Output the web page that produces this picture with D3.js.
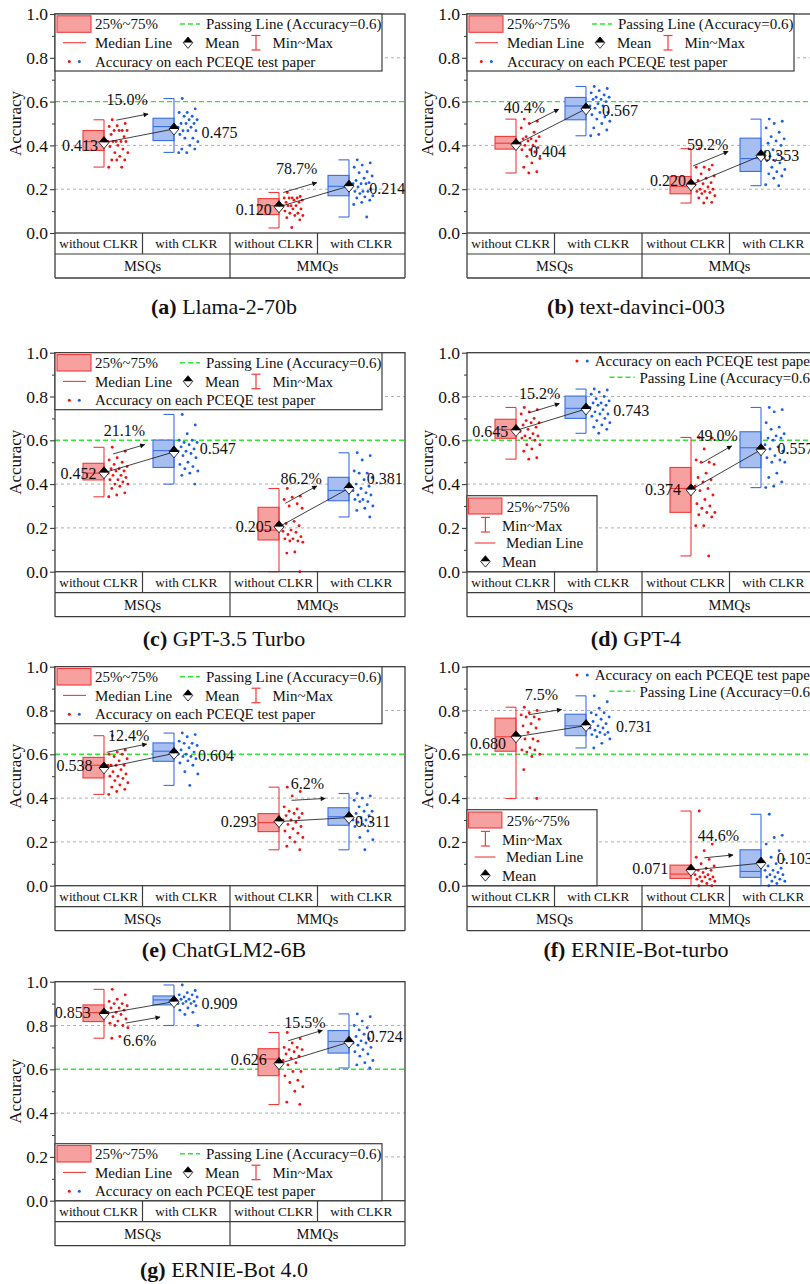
<!DOCTYPE html>
<html><head><meta charset="utf-8">
<script src="https://cdn.jsdelivr.net/npm/d3@7"></script>
<style>body{margin:0;background:#fff}svg text,svg tspan{font-family:"Liberation Serif","Times New Roman","DejaVu Serif",serif !important;fill:#111}</style>
</head><body><svg id="c" width="810" height="1284" font-family="Liberation Serif, Times New Roman, serif"></svg>
<script>
// ---------- DATA ----------
const panelLetters = ["a","b","c","d","e","f","g"];
const panelNames = ["Llama-2-70b","text-davinci-003","GPT-3.5 Turbo","GPT-4","ChatGLM2-6B","ERNIE-Bot-turbo","ERNIE-Bot 4.0"];
const subCategories = ["without CLKR","with CLKR","without CLKR","with CLKR"];
const groups = ["MSQs","MMQs"];
const yTicks = [0,0.2,0.4,0.6,0.8,1.0];
const yMinorTicks = [0.1,0.3,0.5,0.7,0.9];
const gridValues = [0.2,0.4,0.8];
const passingLine = 0.6;
// box order in each panel: MSQs without, MSQs with, MMQs without, MMQs with
const q1 = [[0.377,0.422,0.084,0.170],[0.383,0.517,0.179,0.281],[0.419,0.476,0.145,0.324],[0.609,0.700,0.271,0.475],[0.492,0.568,0.247,0.276],[0.614,0.685,0.033,0.038],[0.818,0.894,0.571,0.674]];
const q3 = [[0.468,0.524,0.157,0.263],[0.441,0.619,0.258,0.433],[0.495,0.601,0.294,0.431],[0.696,0.802,0.476,0.639],[0.586,0.652,0.329,0.356],[0.765,0.783,0.094,0.164],[0.894,0.935,0.694,0.777]];
const medians = [[0.417,0.486,0.125,0.213],[0.410,0.580,0.213,0.340],[0.450,0.553,0.190,0.371],[0.650,0.746,0.380,0.566],[0.550,0.614,0.288,0.315],[0.680,0.730,0.053,0.065],[0.859,0.917,0.647,0.727]];
const mins = [[0.301,0.368,0.023,0.073],[0.274,0.444,0.137,0.216],[0.342,0.400,0.000,0.250],[0.514,0.632,0.072,0.384],[0.417,0.458,0.164,0.164],[0.398,0.629,0.000,0.000],[0.742,0.800,0.439,0.606]];
const maxs = [[0.517,0.614,0.185,0.334],[0.520,0.669,0.385,0.520],[0.568,0.718,0.380,0.543],[0.750,0.834,0.613,0.750],[0.685,0.697,0.450,0.421],[0.815,0.867,0.341,0.326],[0.965,0.985,0.768,0.853]];
const means = [[0.413,0.475,0.120,0.214],[0.404,0.567,0.220,0.353],[0.452,0.547,0.205,0.381],[0.645,0.743,0.374,0.557],[0.538,0.604,0.293,0.311],[0.680,0.731,0.071,0.103],[0.853,0.909,0.626,0.724]];
const gains = [["15.0%","78.7%"],["40.4%","59.2%"],["21.1%","86.2%"],["15.2%","49.0%"],["12.4%","6.2%"],["7.5%","44.6%"],["6.6%","15.5%"]];

const pointsA = [
 [0.517,0.50,0.49,0.486,0.468,0.468,0.468,0.468,0.45,0.44,0.418,0.418,0.418,0.418,0.418,0.40,0.395,0.383,0.367,0.367,0.35,0.333,0.333,0.333,0.30,0.30],
 [0.614,0.567,0.55,0.55,0.533,0.533,0.517,0.517,0.50,0.50,0.50,0.483,0.483,0.467,0.467,0.467,0.45,0.433,0.433,0.417,0.40,0.383,0.383,0.367,0.367],
 [0.185,0.167,0.16,0.16,0.16,0.16,0.15,0.15,0.14,0.14,0.125,0.125,0.125,0.125,0.11,0.11,0.10,0.09,0.09,0.08,0.08,0.07,0.06,0.025],
 [0.334,0.32,0.31,0.30,0.28,0.275,0.26,0.25,0.24,0.23,0.225,0.225,0.225,0.21,0.20,0.19,0.19,0.19,0.18,0.17,0.165,0.16,0.15,0.14,0.13,0.073]];
const pointsB = [
 [0.52,0.51,0.50,0.48,0.46,0.44,0.44,0.43,0.43,0.42,0.42,0.41,0.40,0.40,0.39,0.38,0.38,0.37,0.35,0.34,0.32,0.30,0.28,0.274],
 [0.669,0.66,0.65,0.64,0.63,0.62,0.62,0.61,0.61,0.60,0.59,0.58,0.58,0.57,0.55,0.55,0.54,0.53,0.52,0.51,0.50,0.48,0.47,0.45,0.444],
 [0.385,0.31,0.30,0.30,0.29,0.27,0.26,0.25,0.24,0.23,0.225,0.22,0.21,0.20,0.20,0.19,0.19,0.185,0.18,0.17,0.16,0.16,0.14,0.137],
 [0.52,0.51,0.50,0.48,0.46,0.44,0.43,0.42,0.41,0.40,0.38,0.37,0.36,0.35,0.34,0.33,0.33,0.32,0.30,0.29,0.28,0.27,0.26,0.25,0.22,0.216]];
const pointsC = [
 [0.568,0.55,0.52,0.51,0.50,0.49,0.48,0.47,0.47,0.46,0.46,0.45,0.44,0.44,0.43,0.42,0.42,0.41,0.40,0.40,0.39,0.38,0.36,0.35,0.342],
 [0.718,0.67,0.63,0.60,0.60,0.59,0.59,0.58,0.57,0.56,0.55,0.55,0.54,0.53,0.52,0.50,0.49,0.48,0.47,0.46,0.45,0.44,0.40],
 [0.38,0.345,0.34,0.33,0.31,0.30,0.29,0.23,0.22,0.21,0.19,0.185,0.18,0.17,0.16,0.15,0.15,0.14,0.14,0.135,0.09,0.085,0.0],
 [0.543,0.53,0.51,0.46,0.45,0.45,0.43,0.42,0.40,0.39,0.38,0.37,0.36,0.35,0.35,0.33,0.33,0.32,0.32,0.30,0.29,0.28,0.25]];
const pointsD = [
 [0.75,0.74,0.73,0.72,0.70,0.69,0.68,0.68,0.67,0.66,0.65,0.64,0.63,0.62,0.62,0.61,0.61,0.60,0.58,0.58,0.56,0.55,0.52,0.514],
 [0.834,0.83,0.82,0.81,0.80,0.79,0.78,0.77,0.77,0.76,0.76,0.75,0.74,0.73,0.72,0.72,0.71,0.70,0.69,0.68,0.67,0.66,0.65,0.632],
 [0.613,0.61,0.56,0.51,0.50,0.50,0.49,0.45,0.43,0.42,0.41,0.39,0.38,0.37,0.35,0.33,0.31,0.30,0.29,0.27,0.27,0.26,0.25,0.21,0.21,0.072],
 [0.75,0.74,0.73,0.68,0.66,0.65,0.63,0.62,0.61,0.61,0.60,0.58,0.57,0.56,0.55,0.53,0.52,0.51,0.50,0.50,0.45,0.43,0.41,0.39,0.384]];
const pointsE = [
 [0.685,0.62,0.61,0.60,0.60,0.59,0.58,0.57,0.55,0.55,0.55,0.55,0.53,0.52,0.51,0.50,0.50,0.49,0.48,0.47,0.46,0.45,0.44,0.43,0.417],
 [0.697,0.69,0.68,0.66,0.65,0.65,0.64,0.63,0.62,0.61,0.60,0.60,0.59,0.59,0.58,0.57,0.56,0.55,0.52,0.51,0.458],
 [0.45,0.43,0.41,0.36,0.35,0.34,0.33,0.33,0.32,0.31,0.30,0.30,0.29,0.28,0.27,0.26,0.25,0.24,0.22,0.22,0.20,0.18,0.164],
 [0.421,0.41,0.40,0.39,0.37,0.36,0.34,0.34,0.33,0.32,0.31,0.30,0.30,0.29,0.29,0.28,0.27,0.25,0.22,0.21,0.164]];
const pointsF = [
 [0.815,0.80,0.79,0.78,0.77,0.77,0.76,0.74,0.73,0.72,0.70,0.68,0.67,0.67,0.66,0.63,0.62,0.62,0.61,0.60,0.59,0.53,0.398],
 [0.867,0.84,0.81,0.79,0.79,0.78,0.77,0.76,0.75,0.74,0.73,0.72,0.72,0.71,0.70,0.70,0.69,0.69,0.68,0.67,0.65,0.629],
 [0.341,0.19,0.16,0.13,0.12,0.10,0.09,0.08,0.07,0.07,0.06,0.05,0.05,0.04,0.04,0.04,0.03,0.03,0.02,0.02,0.01,0.0,0.0],
 [0.326,0.23,0.22,0.19,0.16,0.13,0.12,0.10,0.09,0.08,0.07,0.07,0.06,0.05,0.05,0.04,0.04,0.03,0.02,0.02,0.01,0.0]];
const pointsG = [
 [0.965,0.94,0.92,0.91,0.90,0.90,0.89,0.88,0.88,0.87,0.86,0.86,0.85,0.84,0.83,0.82,0.81,0.80,0.80,0.79,0.75,0.742],
 [0.985,0.96,0.95,0.94,0.94,0.93,0.93,0.92,0.92,0.91,0.91,0.90,0.90,0.90,0.89,0.88,0.87,0.86,0.85,0.80],
 [0.768,0.74,0.72,0.70,0.70,0.69,0.69,0.68,0.67,0.66,0.65,0.64,0.63,0.62,0.59,0.59,0.57,0.55,0.54,0.52,0.50,0.45,0.44],
 [0.853,0.84,0.82,0.80,0.79,0.78,0.77,0.76,0.75,0.74,0.73,0.72,0.72,0.71,0.70,0.69,0.68,0.67,0.66,0.64,0.63,0.62,0.606]];
const allPoints = [pointsA,pointsB,pointsC,pointsD,pointsE,pointsF,pointsG];

// ---------- LAYOUT ----------
const colX = [55, 467];
const rowTop = [14, 352.7, 666.7, 981.7];
const titleBase = [314, 646, 957, 1277];
const PW = 350, PH = 219;
const legendType = ["top","top","top","B","top","B","bottom"];
const annot = [
 [{off:-20,t0:.177,t1:.63,lx:10.7,ly:-20.7,rdx:-6,rdy:2.5,ra:"end",bdx:27.4,bdy:3.7},{off:-13,t0:.06,t1:.54,lx:13.4,ly:-24,rdx:-7.3,rdy:2.3,ra:"end",bdx:20.3,bdy:2}],
 [{off:-13.6,t0:.19,t1:.61,lx:-5,ly:-17,rdx:14,rdy:7,ra:"start",bdx:16,bdy:2},{off:-18,t0:.03,t1:.53,lx:14.5,ly:-21.6,rdx:-5,rdy:-4.8,ra:"end",bdx:2.3,bdy:-0.7}],
 [{off:-16,t0:.13,t1:.58,lx:11.4,ly:-23.3,rdx:-7.6,rdy:0.6,ra:"end",bdx:25.7,bdy:-3.6},{off:-20,t0:.09,t1:.54,lx:15.8,ly:-25,rdx:-7.3,rdy:-0.8,ra:"end",bdx:17.7,bdy:-10}],
 [{off:-13.6,t0:.18,t1:.62,lx:11,ly:-19.4,rdx:-7.7,rdy:0.6,ra:"end",bdx:27.3,bdy:1},{off:-20.6,t0:.16,t1:.58,lx:15,ly:-27.7,rdx:-10,rdy:0,ra:"end",bdx:16.6,bdy:-1}],
 [{off:-15,t0:.04,t1:.61,lx:21.9,ly:-17.3,rdx:-11.6,rdy:-2.3,ra:"end",bdx:24,bdy:2.2},{off:-20.5,t0:.18,t1:.66,lx:15.8,ly:-16.7,rdx:-22.3,rdy:-0.5,ra:"end",bdx:6,bdy:3.6}],
 [{off:-20,t0:.18,t1:.65,lx:12.9,ly:-20.7,rdx:-10,rdy:7,ra:"end",bdx:30,bdy:0.8},{off:-11,t0:.19,t1:.6,lx:14,ly:-22,rdx:-22.7,rdy:-1.8,ra:"end",bdx:15.7,bdy:-4.7}],
 [{off:13,t0:.31,t1:.8,lx:14,ly:17,rdx:-13.3,rdy:-1.7,ra:"end",bdx:27.4,bdy:1.6},{off:-20,t0:.13,t1:.62,lx:16.7,ly:-18,rdx:-12.3,rdy:-4,ra:"end",bdx:17.7,bdy:-5.7}]
];
const C = {redStroke:"#f03a3a", redFill:"#f7a0a0", redDot:"#f01414", blueStroke:"#3a6ee4", blueFill:"#a6bff0", blueDot:"#1c5fe8", frame:"#3c3c3c", green:"#2ee82e", grid:"#9a9a9a"};
const FONT = '"Liberation Serif","Times New Roman",serif';

const svg = d3.select("#c");
const defs = svg.append("defs");
defs.append("marker").attr("id","arr").attr("viewBox","0 0 10 10").attr("refX",9).attr("refY",5)
  .attr("markerWidth",6).attr("markerHeight",5).attr("markerUnits","userSpaceOnUse").attr("orient","auto")
  .append("path").attr("d","M0,0 L10,5 L0,10 Z").attr("fill","#111");

function txt(g, x, y, s, size, anchor) {
  return g.append("text").attr("x",x).attr("y",y).attr("dy","0.35em").attr("text-anchor",anchor||"start")
    .attr("font-size",size).style("font-family",FONT).text(s);
}
function diamond(g, x, y, s) {
  const w = 5*s, h = 6*s;
  g.append("path").attr("d",`M${x-w},${y} L${x},${y-h} L${x+w},${y} Z`).attr("fill","#000");
  g.append("path").attr("d",`M${x-w},${y} L${x},${y+h} L${x+w},${y} Z`).attr("fill","#fff");
  g.append("path").attr("d",`M${x-w},${y} L${x},${y-h} L${x+w},${y} L${x},${y+h} Z`).attr("fill","none").attr("stroke","#000").attr("stroke-width",0.8);
}
function whiskerIcon(g, x, y1, y2, col) {
  g.append("line").attr("x1",x).attr("x2",x).attr("y1",y1).attr("y2",y2).attr("stroke",col).attr("stroke-width",1.2);
  [y1,y2].forEach(yy=>g.append("line").attr("x1",x-4.5).attr("x2",x+4.5).attr("y1",yy).attr("y2",yy).attr("stroke",col).attr("stroke-width",1.2));
}

function drawPanel(i) {
  const col = i%2, row = Math.floor(i/2);
  const x0 = colX[col], top = rowTop[row];
  const g = svg.append("g");
  const y = d3.scaleLinear().domain([0,1]).range([top+PH, top]);
  const xb = d3.scaleBand().domain([0,1,2,3]).range([x0, x0+PW]);
  const bw = xb.bandwidth();
  const boxRight = j => xb(j) + (j%2 ? 0.36*bw : 0.56*bw);
  const BW = 21;

  g.selectAll(".grid").data(gridValues).join("line")
    .attr("x1",x0).attr("x2",x0+PW).attr("y1",d=>y(d)).attr("y2",d=>y(d))
    .attr("stroke",C.grid).attr("stroke-width",0.8).attr("stroke-dasharray","3,3");
  g.append("line").attr("x1",x0).attr("x2",x0+PW).attr("y1",y(passingLine)).attr("y2",y(passingLine))
    .attr("stroke",C.green).attr("stroke-width",1.4).attr("stroke-dasharray","5,3");

  for (let j=0;j<4;j++) {
    const blue = j%2===1;
    const sc = blue?C.blueStroke:C.redStroke, fc = blue?C.blueFill:C.redFill;
    const r = boxRight(j), l = r-BW;
    g.append("rect").attr("x",l).attr("y",y(q3[i][j])).attr("width",BW).attr("height",y(q1[i][j])-y(q3[i][j]))
      .attr("fill",fc).attr("stroke",sc).attr("stroke-width",1.1);
    g.append("line").attr("x1",l).attr("x2",r).attr("y1",y(medians[i][j])).attr("y2",y(medians[i][j])).attr("stroke",sc).attr("stroke-width",1.1);
    g.append("line").attr("x1",r).attr("x2",r).attr("y1",y(maxs[i][j])).attr("y2",y(mins[i][j])).attr("stroke",sc).attr("stroke-width",1.1);
    [maxs[i][j],mins[i][j]].forEach(v=>g.append("line").attr("x1",r-BW/2).attr("x2",r).attr("y1",y(v)).attr("y2",y(v)).attr("stroke",sc).attr("stroke-width",1.1));
    const pts = allPoints[i][j];
    g.selectAll(null).data(pts).join("circle")
      .attr("cx",(d,k)=> r + 3 + ((k*0.618034 + 0.25) % 1)*21)
      .attr("cy",d=>y(d)).attr("r",1.45).attr("fill",blue?C.blueDot:C.redDot);
  }

  for (let p=0;p<2;p++) {
    const a = annot[i][p];
    const jr = 2*p, jb = 2*p+1;
    const xr = boxRight(jr), yr = y(means[i][jr]);
    const xB = boxRight(jb), yB = y(means[i][jb]);
    g.append("line").attr("x1",xr).attr("y1",yr).attr("x2",xB).attr("y2",yB).attr("stroke","#111").attr("stroke-width",0.8);
    const ax1 = xr + a.t0*(xB-xr), ay1 = yr + a.t0*(yB-yr) + a.off;
    const ax2 = xr + a.t1*(xB-xr), ay2 = yr + a.t1*(yB-yr) + a.off;
    g.append("line").attr("x1",ax1).attr("y1",ay1).attr("x2",ax2).attr("y2",ay2).attr("stroke","#111").attr("stroke-width",0.8).attr("marker-end","url(#arr)");
    txt(g, ax1+a.lx, ay1+a.ly, gains[i][p], 16, "middle");
    diamond(g, xr, yr, 1);
    diamond(g, xB, yB, 1);
    txt(g, xr+a.rdx, yr+a.rdy, means[i][jr].toFixed(3), 16, a.ra);
    txt(g, xB+a.bdx, yB+a.bdy, means[i][jb].toFixed(3), 16, "start");
  }

  g.append("rect").attr("x",x0).attr("y",top).attr("width",PW).attr("height",PH).attr("fill","none").attr("stroke",C.frame).attr("stroke-width",1.3);

  const ax = g.append("g").attr("transform",`translate(${x0},0)`)
    .call(d3.axisLeft(y).tickValues(yTicks).tickFormat(d3.format(".1f")).tickSize(5).tickPadding(2));
  ax.attr("font-family",null);
  ax.select(".domain").remove();
  ax.selectAll("line").attr("stroke",C.frame).attr("stroke-width",1.1);
  ax.selectAll("text").attr("font-size",17.5).attr("fill","#111").style("font-family",FONT);
  const axm = g.append("g").attr("transform",`translate(${x0},0)`)
    .call(d3.axisLeft(y).tickValues(yMinorTicks).tickFormat("").tickSize(3));
  axm.select(".domain").remove();
  axm.selectAll("line").attr("stroke",C.frame).attr("stroke-width",1);
  g.append("text").attr("transform",`translate(${x0-40},${top+PH/2}) rotate(-90)`).attr("text-anchor","middle").attr("dy","0.35em")
    .attr("font-size",17).style("font-family",FONT).text("Accuracy");

  const tb = top+PH, r1 = tb+21, r2 = tb+45;
  g.append("line").attr("x1",x0).attr("x2",x0+PW).attr("y1",r1).attr("y2",r1).attr("stroke",C.frame).attr("stroke-width",1.2);
  g.append("line").attr("x1",x0).attr("x2",x0+PW).attr("y1",r2).attr("y2",r2).attr("stroke",C.frame).attr("stroke-width",1.3);
  g.append("line").attr("x1",x0).attr("x2",x0).attr("y1",tb).attr("y2",r2).attr("stroke",C.frame).attr("stroke-width",1.3);
  g.append("line").attr("x1",x0+PW).attr("x2",x0+PW).attr("y1",tb).attr("y2",r2).attr("stroke",C.frame).attr("stroke-width",1.3);
  [1,2,3].forEach(j=>g.append("line").attr("x1",xb(j)).attr("x2",xb(j)).attr("y1",tb).attr("y2",j===2?r2:r1).attr("stroke",C.frame).attr("stroke-width",1.2));
  subCategories.forEach((s,j)=>txt(g, xb(j)+bw/2, tb+10.5, s, 13.2, "middle"));
  groups.forEach((s,k)=>txt(g, x0+PW/4+k*PW/2, r1+12, s, 14.5, "middle"));

  const t = g.append("text").attr("x",x0+PW/2-6).attr("y",titleBase[row]).attr("text-anchor","middle").attr("font-size",22).style("font-family",FONT);
  t.append("tspan").attr("font-weight","bold").style("font-family",FONT).text(`(${panelLetters[i]})`);
  t.append("tspan").style("font-family",FONT).text(" "+panelNames[i]);

  const lt = legendType[i];
  if (lt==="top" || lt==="bottom") {
    const LW = 327, LH = 57;
    const ly = lt==="top" ? top : top+PH-LH;
    const L = g.append("g").attr("transform",`translate(${x0},${ly})`);
    L.append("rect").attr("width",LW).attr("height",LH).attr("fill","#fff").attr("stroke",C.frame).attr("stroke-width",1.2);
    L.append("rect").attr("x",2).attr("y",1.8).attr("width",34).attr("height",16.5).attr("fill",C.redFill).attr("stroke",C.redStroke).attr("stroke-width",1.1);
    txt(L,40,10,"25%~75%",15);
    L.append("line").attr("x1",125).attr("x2",145).attr("y1",10).attr("y2",10).attr("stroke",C.green).attr("stroke-width",1.4).attr("stroke-dasharray","5,3");
    txt(L,151,10,"Passing Line (Accuracy=0.6)",15);
    L.append("line").attr("x1",8).attr("x2",31).attr("y1",28.7).attr("y2",28.7).attr("stroke",C.redStroke).attr("stroke-width",1.1);
    txt(L,40,28.7,"Median Line",15);
    diamond(L,133,28.7,0.95);
    txt(L,150,28.7,"Mean",15);
    whiskerIcon(L,201,21.5,36,C.redStroke);
    txt(L,217.5,28.7,"Min~Max",15);
    L.append("circle").attr("cx",14.3).attr("cy",47.5).attr("r",1.5).attr("fill",C.redDot);
    L.append("circle").attr("cx",24.3).attr("cy",47.5).attr("r",1.5).attr("fill",C.blueDot);
    txt(L,40,47.5,"Accuracy on each PCEQE test paper",15);
  } else {
    const xr = x0+PW-2;
    const t1 = txt(g, xr, top+8.3, "Accuracy on each PCEQE test paper", 15, "end");
    const s1 = xr - t1.node().getComputedTextLength();
    g.append("circle").attr("cx",s1-17.7).attr("cy",top+8.3).attr("r",1.5).attr("fill",C.redDot);
    g.append("circle").attr("cx",s1-7.4).attr("cy",top+8.3).attr("r",1.5).attr("fill",C.blueDot);
    const t2 = txt(g, xr, top+24.6, "Passing Line (Accuracy=0.6)", 15, "end");
    const s2 = xr - t2.node().getComputedTextLength();
    g.append("line").attr("x1",s2-30).attr("x2",s2-4.7).attr("y1",top+24.6).attr("y2",top+24.6).attr("stroke",C.green).attr("stroke-width",1.4).attr("stroke-dasharray","5,3");
    const LH = 76, LW = 130;
    const L = g.append("g").attr("transform",`translate(${x0},${top+PH-LH})`);
    L.append("rect").attr("width",LW).attr("height",LH).attr("fill","#fff").attr("stroke",C.frame).attr("stroke-width",1.2);
    L.append("rect").attr("x",1.5).attr("y",2.3).attr("width",33.4).attr("height",16).attr("fill",C.redFill).attr("stroke",C.redStroke).attr("stroke-width",1.1);
    txt(L,39.7,11.3,"25%~75%",15);
    whiskerIcon(L,18.4,21.7,36.3,C.redStroke);
    txt(L,35,30,"Min~Max",15);
    L.append("line").attr("x1",7.7).attr("x2",28.4).attr("y1",47.3).attr("y2",47.3).attr("stroke",C.redStroke).attr("stroke-width",1.1);
    txt(L,39,47.3,"Median Line",15);
    diamond(L,18.4,65.7,0.95);
    txt(L,35,65.7,"Mean",15);
  }
}
for (let i=0;i<7;i++) drawPanel(i);
</script></body></html>
